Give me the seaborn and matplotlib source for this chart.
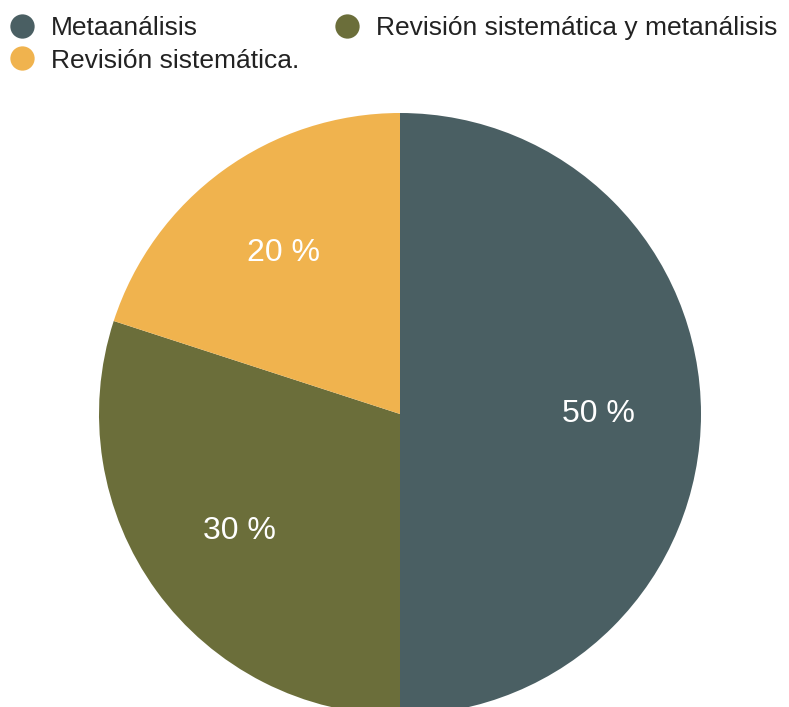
import matplotlib
matplotlib.use("Agg")
import matplotlib.pyplot as plt
import seaborn as sns
from matplotlib.lines import Line2D

categories = ["Metaanálisis", "Revisión sistemática y metanálisis", "Revisión sistemática."]
values = [50, 30, 20]
colors = ["#4a5f63", "#6b6e3a", "#f0b34e"]

sns.set_theme(style="white")
plt.rcParams['font.family'] = ['Liberation Sans', 'DejaVu Sans']

W, H = 789, 707
fig = plt.figure(figsize=(W / 100, H / 100), dpi=100)
cx, cy, r = 400, 414, 301
ax = fig.add_axes([(cx - r) / W, (H - cy - r) / H, 2 * r / W, 2 * r / H])

wedges, texts, autotexts = ax.pie(
    values, colors=colors, startangle=90, counterclock=False,
    autopct=lambda p: f"{p:.0f} %", pctdistance=0.66, radius=1,
    textprops=dict(color="white", fontsize=23),
    wedgeprops=dict(linewidth=0),
)
ax.set_xlim(-1, 1)
ax.set_ylim(-1, 1)
ax.set_aspect('equal', adjustable='box')
ax.axis('off')

order = [0, 2, 1]
handles = [Line2D([], [], marker='o', linestyle='none', markersize=17.5,
                  markerfacecolor=colors[i], markeredgewidth=0) for i in order]
labels = [categories[i] for i in order]
fig.legend(handles, labels, loc='upper left', bbox_to_anchor=(8.8 / W, 1 - 16 / H),
           ncol=2, frameon=False, fontsize=19, handlelength=1.0, handletextpad=0.6,
           columnspacing=1.3, labelspacing=0.33, borderpad=0, borderaxespad=0,
           labelcolor="#222222")

fig.savefig("out.png", dpi=100)
